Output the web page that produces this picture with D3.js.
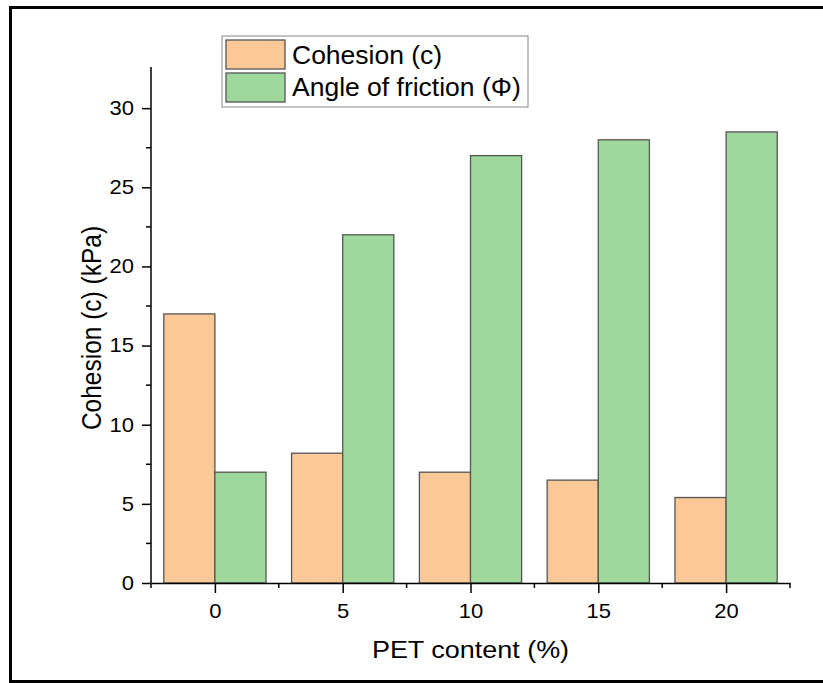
<!DOCTYPE html>
<meta charset="utf-8">
<style>
    body { margin: 0; background: #fff; }
    svg text { font-family: "Liberation Sans", Arial, sans-serif; fill: #000; }
    .axis path, .axis line { stroke: #000; stroke-width: 1.5; }
    .axis text { font-size: 20px; }
    .bar { stroke: #555; stroke-width: 1.3; }
</style>
<svg width="823" height="683"></svg>
<script src="https://d3js.org/d3.v7.min.js"></script>
<script>

var categories = [0, 5, 10, 15, 20];
var cohesion = [17, 8.2, 7, 6.5, 5.4];
var friction = [7, 22, 27, 28, 28.5];
var seriesNames = ["Cohesion (c)", "Angle of friction (\u03A6)"];
var colors = ["#fbc898", "#9fd89d"];
var yTicks = [0, 5, 10, 15, 20, 25, 30];

var stretch = 1.1; // the source picture is a bit wide

var svg = d3.select("svg");

// outer frame (right side runs off the image)
svg.append("path")
    .attr("d", "M830,7.5 H10.5 V681.5 H830")
    .attr("fill", "none")
    .attr("stroke", "#000")
    .attr("stroke-width", 3);

var x = d3.scaleLinear().domain([-2.5, 22.5]).range([151, 790]);
var y = d3.scaleLinear().domain([0, 32.6]).range([583, 67]);
var barW = 2; // in x units

var series = [cohesion, friction];

series.forEach(function(vals, si) {
    svg.selectAll(".bar-" + si)
        .data(categories)
        .enter().append("rect")
        .attr("class", "bar bar-" + si)
        .attr("x", function(d) { return si === 0 ? x(d - barW) : x(d); })
        .attr("y", function(d, i) { return y(vals[i]); })
        .attr("width", x(barW) - x(0))
        .attr("height", function(d, i) { return y(0) - y(vals[i]); })
        .attr("fill", colors[si]);
});

// y axis
var yAxis = svg.append("g")
    .attr("class", "axis")
    .attr("transform", "translate(151,0)")
    .call(d3.axisLeft(y).tickValues(yTicks).tickSize(9).tickPadding(8).tickSizeOuter(0));
yAxis.select(".domain").attr("d", "M0," + y(32.6) + "V" + y(0));
yAxis.selectAll(".tick text")
    .attr("x", -17 / stretch)
    .attr("transform", "scale(" + stretch + ",1)");
yAxis.selectAll(".minor")
    .data(d3.range(2.5, 32.5, 5))
    .enter().append("line")
    .attr("x1", -5).attr("x2", 0)
    .attr("y1", function(d) { return y(d); })
    .attr("y2", function(d) { return y(d); });

// x axis
var xAxis = svg.append("g")
    .attr("class", "axis")
    .attr("transform", "translate(0,583)")
    .call(d3.axisBottom(x).tickValues(categories).tickSize(10).tickPadding(11).tickSizeOuter(0));
xAxis.selectAll(".tick text")
    .attr("transform", "scale(" + stretch + ",1)");
xAxis.selectAll(".minor")
    .data(d3.range(-2.5, 23, 5))
    .enter().append("line")
    .attr("x1", function(d) { return x(d); })
    .attr("x2", function(d) { return x(d); })
    .attr("y1", 0).attr("y2", 5);

// axis titles
svg.append("text")
    .attr("transform", "translate(101,328) rotate(-90) scale(1," + stretch + ")")
    .attr("text-anchor", "middle")
    .style("font-size", "24.5px")
    .text("Cohesion (c) (kPa)");

svg.append("text")
    .attr("transform", "translate(470.5,658) scale(" + stretch + ",1)")
    .attr("text-anchor", "middle")
    .style("font-size", "24.5px")
    .text("PET content (%)");

// legend
var legend = svg.append("g");
legend.append("rect")
    .attr("x", 222).attr("y", 36)
    .attr("width", 306).attr("height", 71)
    .attr("fill", "#fff")
    .attr("stroke", "#888")
    .attr("stroke-width", 1);

seriesNames.forEach(function(name, i) {
    legend.append("rect")
        .attr("class", "bar")
        .attr("x", 226).attr("y", 40 + i * 33)
        .attr("width", 59).attr("height", 29)
        .attr("fill", colors[i]);
    legend.append("text")
        .attr("transform", "translate(292," + (64 + i * 32) + ") scale(1.06,1)")
        .style("font-size", "25px")
        .text(name);
});

</script>
